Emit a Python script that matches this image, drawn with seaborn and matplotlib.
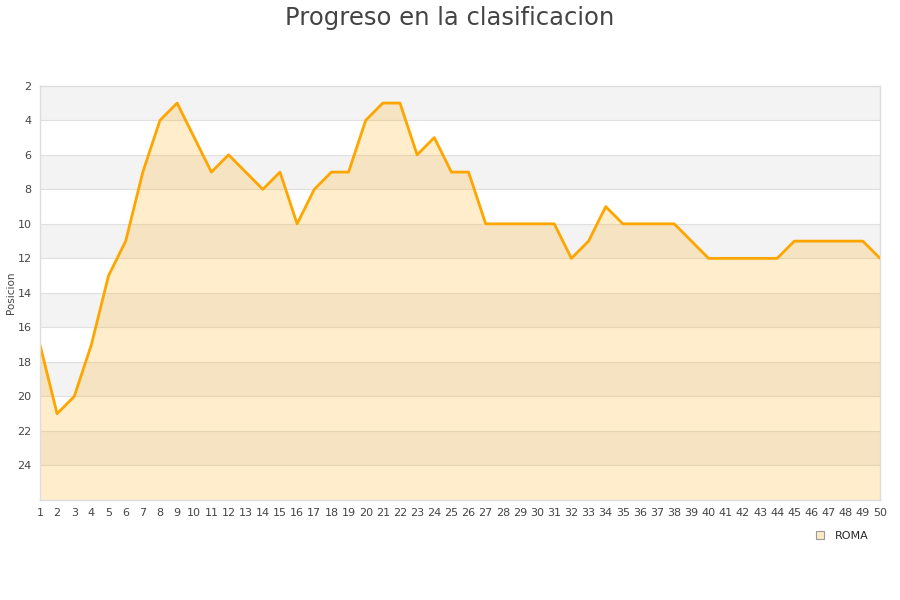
import numpy as np
import pandas as pd
import matplotlib
matplotlib.use("Agg")
import matplotlib.pyplot as plt
from matplotlib.lines import Line2D
import seaborn as sns

# Datos: jornada y posicion
jornadas = list(range(1, 51))
posiciones = [17, 21, 20, 17, 13, 11, 7, 4, 3, 5,
              7, 6, 7, 8, 7, 10, 8, 7, 7, 4,
              3, 3, 6, 5, 7, 7, 10, 10, 10, 10,
              10, 12, 11, 9, 10, 10, 10, 10, 11, 12,
              12, 12, 12, 12, 11, 11, 11, 11, 11, 12]
equipo = 'ROMA'
y_ticks = list(range(2, 25, 2))

df = pd.DataFrame({'jornada': jornadas, 'posicion': posiciones})

sns.set_style("white")
plt.rcParams['font.family'] = ['DejaVu Sans']

fig = plt.figure(figsize=(9, 6), dpi=100)
ax = fig.add_axes([0.0444, 0.1667, 0.9334, 0.6903])

# bandas alternas de fondo
for i, y0 in enumerate(range(2, 26, 2)):
    if i % 2 == 0:
        ax.axhspan(y0, y0 + 2, color='#f3f3f3', zorder=0, lw=0)
for y in y_ticks[1:]:
    ax.axhline(y, color='#e0e0e0', lw=0.8, zorder=0.5)

ax.fill_between(df['jornada'], df['posicion'], 26, color='#ffa500', alpha=0.2, lw=0, zorder=1)
sns.lineplot(data=df, x='jornada', y='posicion', ax=ax, color='#ffa500', lw=2, zorder=2)

ax.set_xlim(1, 50)
ax.set_ylim(26, 2)
ax.set_xticks(jornadas)
ax.set_yticks(y_ticks)
ax.tick_params(axis='both', length=0, labelsize=8, colors='#444444', pad=6)
ax.set_xlabel('')
ax.set_ylabel('Posicion', fontsize=7.5, color='#444444')
ax.yaxis.set_label_coords(-0.029, 0.5)
for s in ax.spines.values():
    s.set_color('#dddddd')
    s.set_linewidth(1)

fig.suptitle('Progreso en la clasificacion', y=0.99, fontsize=17.5, color='#444444')

handle = Line2D([], [], marker='s', ls='', markersize=6,
                markerfacecolor='#fde9c6', markeredgecolor='#999999', markeredgewidth=0.8)
fig.legend([handle], [equipo], loc='center', bbox_to_anchor=(0.932, 0.107),
           frameon=False, fontsize=8, handletextpad=0.3, borderaxespad=0)

fig.savefig('out.png', dpi=100)
